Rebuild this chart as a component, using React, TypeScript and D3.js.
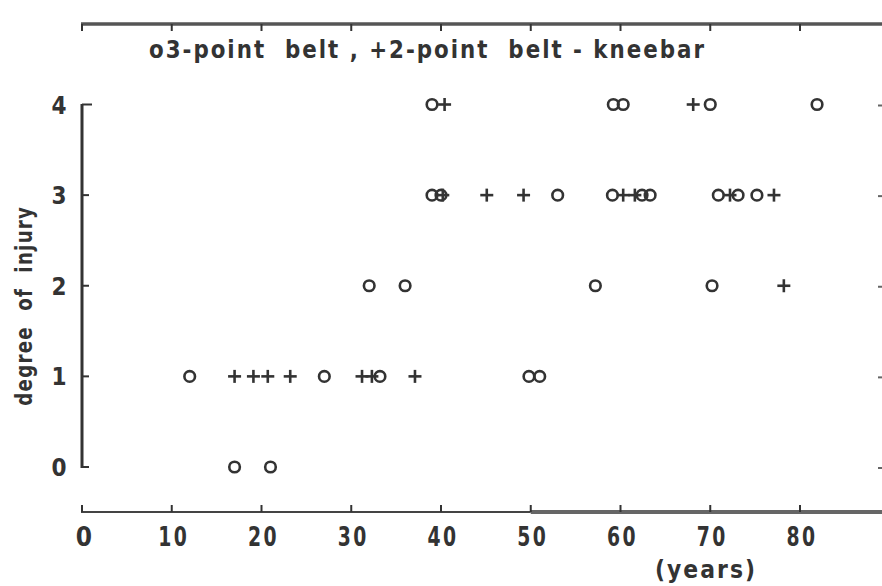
import React from "react";
import * as d3 from "d3";

// 3-point belt (circles): [age, degree of injury]
const belt3Age = [17, 21, 12, 27, 33.2, 49.8, 51, 32, 36, 57.2, 70.2, 39, 40, 53, 59.1, 62.4, 63.3, 70.9, 73.1, 75.2, 39, 59.2, 60.3, 70, 81.9];
const belt3Injury = [0, 0, 1, 1, 1, 1, 1, 2, 2, 2, 2, 3, 3, 3, 3, 3, 3, 3, 3, 3, 4, 4, 4, 4, 4];

// 2-point belt - kneebar (crosses)
const belt2Age = [17, 19.1, 20.7, 23.2, 31.2, 32.3, 37.1, 78.2, 40.2, 45.1, 49.2, 60.3, 61.6, 72.2, 77.1, 40.4, 68.1];
const belt2Injury = [1, 1, 1, 1, 1, 1, 1, 2, 3, 3, 3, 3, 3, 3, 3, 4, 4];

const xTicks = [0, 10, 20, 30, 40, 50, 60, 70, 80];
const yTicks = [0, 1, 2, 3, 4];

const legendText = "o3-point  belt , +2-point  belt - kneebar";
const xTitle = "(years)";
const yTitle = "degree  of  injury";

const FONT = "'Liberation Sans Narrow', 'DejaVu Sans Condensed', 'Liberation Sans', sans-serif";
const INK = "#333";
const PRE = { whiteSpace: "pre" as const };

export default function App() {
  const W = 882;
  const H = 586;
  const x = d3.scaleLinear().domain([0, 80]).range([82, 800]);
  const y = d3.scaleLinear().domain([0, 4]).range([467, 104.5]);
  const axisY = 512;
  const left = x(0);

  const circles = belt3Age.map((a, i) => ({ a, v: belt3Injury[i] }));
  const crosses = belt2Age.map((a, i) => ({ a, v: belt2Injury[i] }));
  const arm = 6.5;

  return (
    <svg width={W} height={H} style={{ display: "block", position: "absolute", left: 0, top: 0, background: "#fff" }}>
      <rect x={0} y={0} width={W} height={H} fill="#fff" />
      {/* top axis */}
      <line x1={left - 1} x2={W} y1={24} y2={24} stroke="#555" strokeWidth={3.5} />
      {xTicks.map((t) => (
        <line key={"tt" + t} x1={x(t)} x2={x(t)} y1={24} y2={31} stroke={INK} strokeWidth={2} />
      ))}
      {/* legend */}
      <text x={149} y={58} fontFamily={FONT} fontWeight="bold" fontSize={24} letterSpacing={2} fill={INK} style={PRE}
        textLength={557} lengthAdjust="spacingAndGlyphs">{legendText}</text>

      {/* left axis */}
      <line x1={left} x2={left} y1={y(4) - 0.5} y2={y(0) + 1} stroke={INK} strokeWidth={3} />
      {yTicks.map((t) => (
        <line key={"yt" + t} x1={left} x2={left + (t === 4 ? 10 : 7)} y1={y(t)} y2={y(t)} stroke={INK} strokeWidth={2} />
      ))}
      {yTicks.map((t) => (
        <text key={"yl" + t} x={59} y={y(t) + 9} textAnchor="middle" fontFamily={FONT} fontWeight="bold" fontSize={24} fill={INK}>{t}</text>
      ))}
      <text transform={`translate(32, ${(y(0) + y(4)) / 2 + 20}) rotate(-90)`} textAnchor="middle" style={PRE}
        fontFamily={FONT} fontWeight="bold" fontSize={23} letterSpacing={1.5} fill={INK} textLength={200} lengthAdjust="spacingAndGlyphs">{yTitle}</text>

      {/* right edge marks */}
      {yTicks.map((t) => (
        <line key={"rt" + t} x1={878} x2={882} y1={y(t) + 1} y2={y(t) + 1} stroke="#666" strokeWidth={2} />
      ))}

      {/* bottom axis */}
      <line x1={left - 1} x2={x(50)} y1={axisY} y2={axisY} stroke="#444" strokeWidth={2.2} />
      <line x1={x(50)} x2={W} y1={axisY} y2={axisY} stroke="#666" strokeWidth={4} />
      {xTicks.map((t) => (
        <line key={"bt" + t} x1={x(t)} x2={x(t)} y1={axisY} y2={axisY - 7} stroke={INK} strokeWidth={2} />
      ))}
      {xTicks.map((t) => {
        const s = String(t);
        return (
          <text key={"bl" + t} x={x(t) + 2} y={546} textAnchor="middle" fontFamily={FONT} fontWeight="bold"
            fontSize={26} fill={INK} {...(s.length > 1 ? { textLength: 31, lengthAdjust: "spacingAndGlyphs", letterSpacing: 3 } : {})}>{s}</text>
        );
      })}
      <text x={706} y={578} textAnchor="middle" fontFamily={FONT} fontWeight="bold" fontSize={24} letterSpacing={2} fill={INK}
        textLength={102} lengthAdjust="spacingAndGlyphs">{xTitle}</text>

      {/* data */}
      {circles.map((d, i) => (
        <circle key={"c" + i} cx={x(d.a)} cy={y(d.v)} r={5.3} fill="none" stroke={INK} strokeWidth={2.6} />
      ))}
      {crosses.map((d, i) => (
        <g key={"p" + i} stroke={INK} strokeWidth={2.6}>
          <line x1={x(d.a) - arm} x2={x(d.a) + arm} y1={y(d.v)} y2={y(d.v)} />
          <line x1={x(d.a)} x2={x(d.a)} y1={y(d.v) - arm} y2={y(d.v) + arm} />
        </g>
      ))}
    </svg>
  );
}
